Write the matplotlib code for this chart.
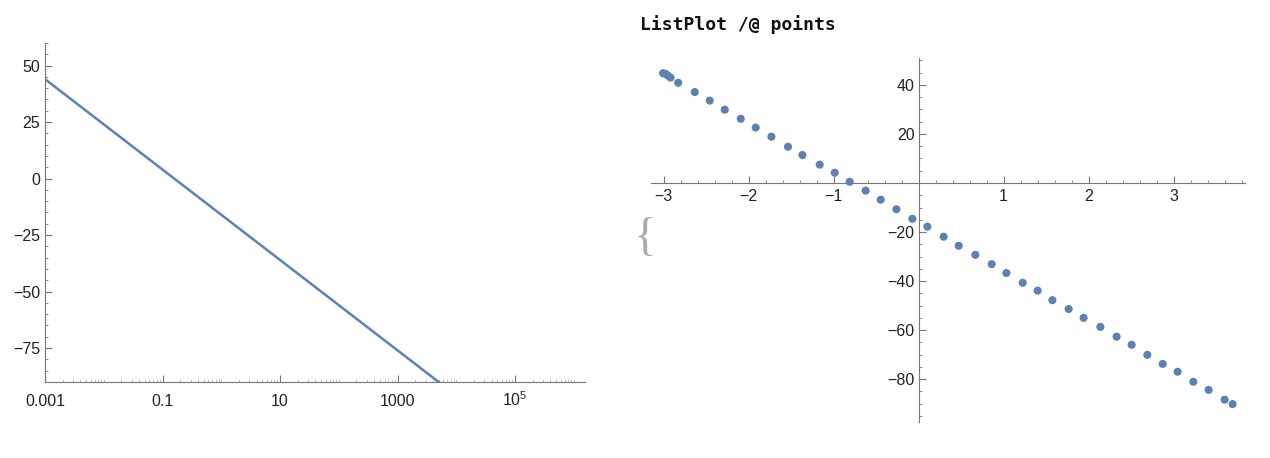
import matplotlib
matplotlib.use("Agg")
import matplotlib.pyplot as plt
import numpy as np
from matplotlib.ticker import FixedLocator, FixedFormatter, MultipleLocator, NullFormatter

plt.rcParams['font.family'] = ['Liberation Sans', 'DejaVu Sans']
plt.rcParams['mathtext.fontset'] = 'custom'
plt.rcParams['mathtext.rm'] = 'Liberation Sans'
plt.rcParams['mathtext.it'] = 'Liberation Sans'
plt.rcParams['mathtext.default'] = 'rm'

# left panel: line on a log x axis
line_x = [1e-3, 1e-2, 1e-1, 1e0, 1e1, 1e2, 1e3, 1e4]
line_y = [44, 24, 4, -16, -36, -56, -76, -96]
log_ticks = [1e-3, 1e-1, 1e1, 1e3, 1e5]
log_labels = ["0.001", "0.1", "10", "1000", r"$10^5$"]

# right panel: ListPlot points
pts_x = [-3.008, -2.976, -2.95, -2.92, -2.83, -2.635, -2.459, -2.282, -2.094,
         -1.918, -1.733, -1.538, -1.368, -1.165, -0.988, -0.812, -0.624,
         -0.447, -0.262, -0.074, 0.102, 0.294, 0.471, 0.667, 0.859, 1.032,
         1.224, 1.4, 1.573, 1.765, 1.941, 2.138, 2.329, 2.506, 2.691, 2.871,
         3.047, 3.232, 3.412, 3.6, 3.694]
pts_y = [44.8, 44.5, 43.8, 43.0, 40.9, 37.1, 33.6, 29.9, 26.2, 22.6, 18.9,
         14.8, 11.4, 7.5, 4.2, 0.5, -3.1, -6.8, -10.7, -14.6, -17.8, -21.9,
         -25.6, -29.3, -33.1, -36.7, -40.7, -43.9, -47.8, -51.4, -55.0, -58.7,
         -62.7, -66.0, -70.1, -73.8, -77.0, -81.1, -84.4, -88.4, -90.2]

blue = "#5e81b5"
axcol = "#777777"
txtcol = "#222222"

fig = plt.figure(figsize=(12.7, 4.58), dpi=100)

# ---- left
ax1 = fig.add_axes([45 / 1270, 1 - 382 / 458, 540 / 1270, 339 / 458])
ax1.plot(line_x, line_y, color=blue, lw=1.8, clip_on=True)
ax1.set_xscale("log")
ax1.set_xlim(1e-3, 10 ** 6.19)
ax1.set_ylim(-90, 60)
for s in ["top", "right"]:
    ax1.spines[s].set_visible(False)
for s in ["left", "bottom"]:
    ax1.spines[s].set_color(axcol)
ax1.xaxis.set_major_locator(FixedLocator(log_ticks))
ax1.xaxis.set_major_formatter(FixedFormatter(log_labels))
minor = []
for e in range(-3, 7):
    for m in range(1, 10):
        v = m * 10.0 ** e
        if v not in log_ticks:
            minor.append(v)
ax1.xaxis.set_minor_locator(FixedLocator(minor))
ax1.xaxis.set_minor_formatter(NullFormatter())
ax1.yaxis.set_major_locator(FixedLocator([-75, -50, -25, 0, 25, 50]))
ax1.yaxis.set_major_formatter(FixedFormatter(["\u221275", "\u221250", "\u221225", "0", "25", "50"]))
ax1.yaxis.set_minor_locator(MultipleLocator(5))
ax1.tick_params(which="both", direction="in", color=axcol, labelcolor=txtcol, labelsize=11.5)
ax1.tick_params(which="major", length=5, width=0.8)
ax1.tick_params(which="minor", length=2.5, width=0.6)
ax1.tick_params(axis="x", which="minor", length=2, width=0.5, color="#aaaaaa")
ax1.tick_params(axis="x", pad=17)
# baseline-align the x labels so 10^5 sits on the same line
for t in ax1.xaxis.get_major_ticks():
    t.label1.set_verticalalignment("baseline")

# ---- right
ax2 = fig.add_axes([651 / 1270, 1 - 422 / 458, 594 / 1270, 364 / 458])
ax2.scatter(pts_x, pts_y, s=34, color=blue, edgecolors="none", zorder=3)
ax2.set_xlim(-3.15, 3.84)
ax2.set_ylim(-97.5, 51)
for s in ["top", "right"]:
    ax2.spines[s].set_visible(False)
ax2.spines["left"].set_position(("data", 0))
ax2.spines["bottom"].set_position(("data", 0))
for s in ["left", "bottom"]:
    ax2.spines[s].set_color(axcol)
xt = [-3, -2, -1, 1, 2, 3]
ax2.xaxis.set_major_locator(FixedLocator(xt))
ax2.xaxis.set_major_formatter(FixedFormatter([str(v).replace("-", "\u2212") for v in xt]))
ax2.xaxis.set_minor_locator(MultipleLocator(0.2))
yt = [-80, -60, -40, -20, 20, 40]
ax2.yaxis.set_major_locator(FixedLocator(yt))
ax2.yaxis.set_major_formatter(FixedFormatter([str(v).replace("-", "\u2212") for v in yt]))
ax2.yaxis.set_minor_locator(MultipleLocator(5))
ax2.tick_params(which="both", direction="in", color=axcol, labelcolor=txtcol, labelsize=11.5)
ax2.tick_params(which="major", length=5, width=0.8)
ax2.tick_params(which="minor", length=2.5, width=0.6)
ax2.tick_params(axis="x", pad=4)
ax2.tick_params(axis="y", pad=3)

fig.text(640 / 1270, 1 - 25 / 458, "ListPlot /@ points", family="DejaVu Sans Mono",
         fontweight="bold", fontsize=13, va="center", ha="left", color="#111111")
fig.text(645 / 1270, 1 - 239 / 458, "{", family="Liberation Serif", fontsize=34,
         fontweight="light", va="center", ha="center", color="#aaaaaa")

fig.savefig("out.png", dpi=100)
